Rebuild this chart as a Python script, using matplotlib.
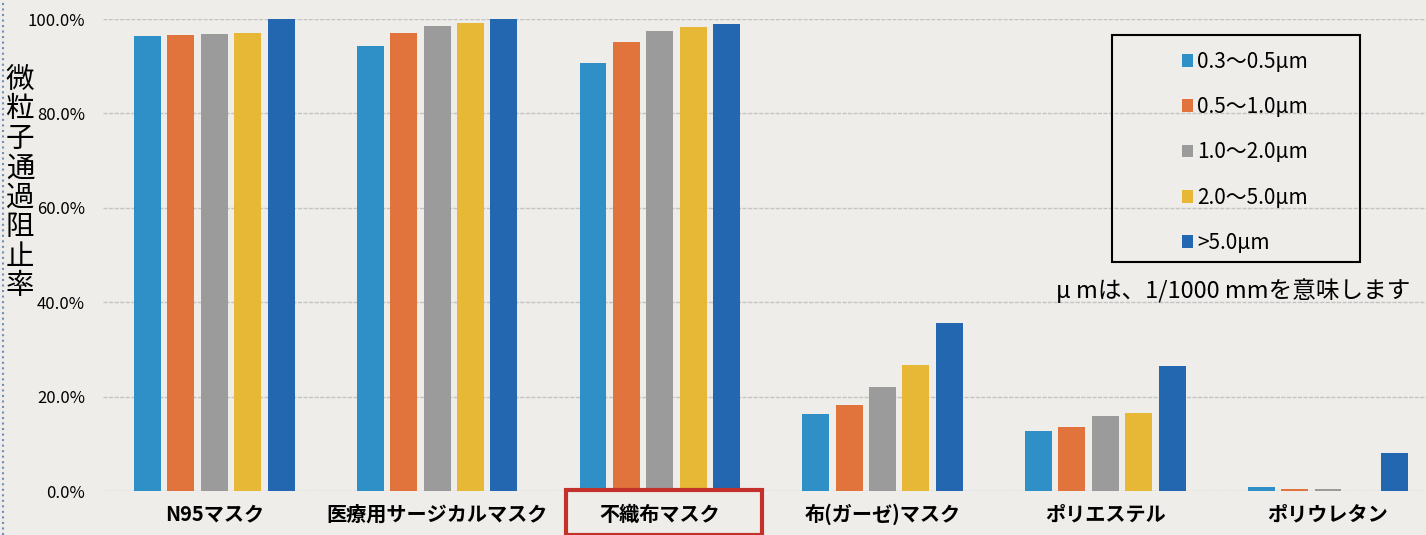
import matplotlib
matplotlib.use("Agg")
import matplotlib.pyplot as plt
from matplotlib.patches import Rectangle
from matplotlib.lines import Line2D
import numpy as np

plt.rcParams['font.family'] = ['Noto Sans CJK JP', 'DejaVu Sans']

categories = ["N95マスク", "医療用サージカルマスク", "不織布マスク", "布(ガーゼ)マスク", "ポリエステル", "ポリウレタン"]
series_labels = ["0.3〜0.5μm", "0.5〜1.0μm", "1.0〜2.0μm", "2.0〜5.0μm", ">5.0μm"]
s_03_05 = [96.4, 94.3, 90.7, 16.4, 12.8, 0.8]
s_05_10 = [96.6, 97.0, 95.1, 18.3, 13.6, 0.5]
s_10_20 = [96.8, 98.5, 97.5, 22.0, 15.8, 0.5]
s_20_50 = [97.0, 99.2, 98.3, 26.7, 16.6, 0.0]
s_50 = [100.0, 100.0, 98.9, 35.6, 26.4, 8.1]
yticks = [0, 20, 40, 60, 80, 100]
ylabel = "微粒子通過阻止率"
note = "μ mは、1/1000 mmを意味します"

series = [s_03_05, s_05_10, s_10_20, s_20_50, s_50]
colors = ["#2f90c8", "#e1733c", "#9b9b9b", "#e6b835", "#2267b0"]
bg = "#eeedea"

W, H = 1426, 535
fig = plt.figure(figsize=(W / 100, H / 100), dpi=100, facecolor=bg)
ax = fig.add_axes([103 / W, (H - 491) / H, (W - 103) / W, (491 - 19) / H])
ax.set_facecolor(bg)

x = np.arange(len(categories))
stride = 0.15
width = 0.121
handles = []
for i, (vals, c, lab) in enumerate(zip(series, colors, series_labels)):
    b = ax.bar(x + (i - 2) * stride, vals, width, color=c, label=lab, zorder=3)
    handles.append(b)

ax.set_xlim(-0.5, 5.44)
ax.set_ylim(0, 100)
ax.set_yticks(yticks)
ax.set_yticklabels([f"{v:.1f}%" for v in yticks], fontsize=12)
ax.set_xticks(x)
ax.set_xticklabels(categories, fontsize=14.5, fontweight='bold')
ax.tick_params(axis='both', length=0)
ax.tick_params(axis='y', pad=13)
ax.tick_params(axis='x', pad=9)
for s in ax.spines.values():
    s.set_visible(False)
ax.grid(axis='y', color='#c4c4c4', linestyle=(0, (3, 1)), linewidth=1, zorder=0)

# y label stacked vertically
fig.text(20 / W, 1 - 183 / H, "\n".join(ylabel), fontsize=20.5,
         ha='center', va='center', linespacing=0.98)

# red box around 不織布マスク
fig.patches.append(Rectangle((566 / W, 0), (762 - 566) / W, (535 - 490) / H,
                             transform=fig.transFigure, fill=False,
                             edgecolor='#c4312a', linewidth=3, zorder=10))

# legend box
fig.patches.append(Rectangle((1112 / W, 1 - 262 / H), (1360 - 1112) / W, (262 - 35) / H,
                             transform=fig.transFigure, fill=False,
                             edgecolor='black', linewidth=1.5, zorder=10))
leg = fig.legend(handles=handles, labels=series_labels, loc='upper left',
                 bbox_to_anchor=(1163 / W, 1 - 32 / H), frameon=False,
                 fontsize=15, handlelength=0.55, handleheight=0.55, handletextpad=0.2,
                 labelspacing=1.12)

fig.text(1410 / W, 1 - 291 / H, note, fontsize=17, ha='right', va='center')

# scan artifact at left edge
fig.add_artist(Line2D([3 / W, 3 / W], [0, 1], transform=fig.transFigure,
                      color='#6f8fc0', linestyle=':', linewidth=1.5))

fig.savefig("out.png", dpi=100, facecolor=bg)
